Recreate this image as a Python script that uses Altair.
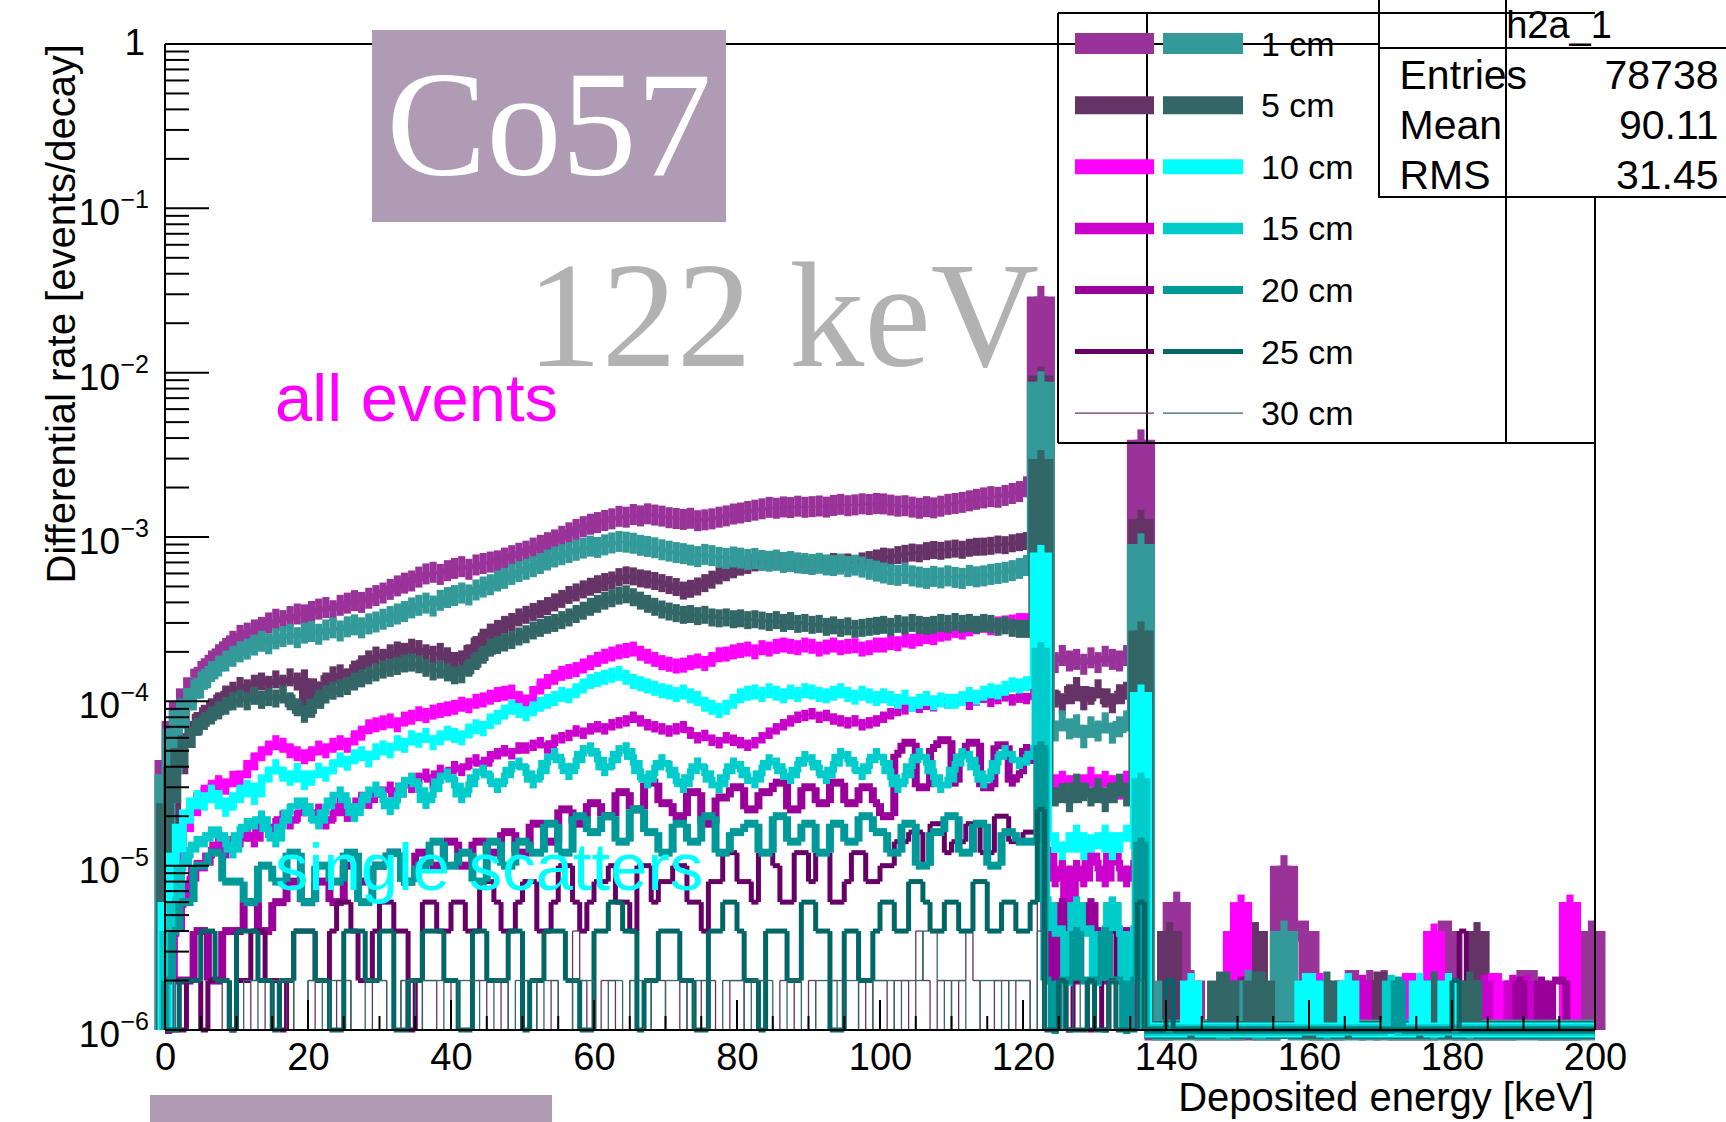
import altair as alt
import pandas as pd

# Co57 source: differential rate per 1 keV bin, stored as simulated counts
# (one count = 2e-6 events/decay). Bins 0-139 are listed in full, the
# sparse counts above 140 keV are given as {bin: count}.
UNIT = 2e-6
FLOOR = 1e-6
N_BINS = 200

distances = ["1 cm", "5 cm", "10 cm", "15 cm", "20 cm", "25 cm", "30 cm"]
all_colors = ["#993399", "#663366", "#ff00ff", "#cc00cc", "#990099", "#660066", "#663366"]
single_colors = ["#339999", "#336666", "#00ffff", "#00cccc", "#009999", "#006666", "#336666"]
line_widths = [21, 18, 15, 11.5, 8, 5, 1.3]

# ---- all events ----
all_1cm = [22, 38, 50, 60, 70, 79, 88, 96, 105, 116,
           126, 130, 136, 141, 150, 158, 155, 164, 170, 168,
           176, 182, 186, 178, 192, 198, 205, 200, 212, 220,
           228, 240, 252, 262, 270, 285, 298, 305, 296, 312,
           322, 330, 318, 338, 345, 352, 358, 372, 385, 398,
           410, 428, 445, 462, 480, 505, 530, 556, 578, 598,
           612, 630, 645, 668, 660, 685, 672, 692, 680, 670,
           655, 648, 640, 650, 628, 636, 645, 660, 672, 690,
           700, 715, 728, 742, 758, 748, 762, 755, 770, 758,
           765, 772, 760, 778, 790, 775, 784, 796, 788, 800,
           795, 782, 770, 775, 760, 748, 765, 752, 770, 790,
           800, 812, 830, 848, 865, 880, 872, 895, 920, 945,
           1010, 1050, 14560, 92, 86, 95, 88, 90, 84, 92,
           86, 94, 90, 88, 95, 100, 1950, 0, 0, 0]
all_1cm_tail = {141: 3, 142: 1, 143: 1, 156: 5, 157: 2, 158: 2, 159: 2, 165: 1, 166: 1,
                168: 1, 170: 1, 178: 2, 179: 2, 189: 1, 190: 1, 191: 1, 198: 1, 199: 2}

all_5cm = [8, 18, 26, 32, 38, 42, 46, 50, 55, 58,
           62, 60, 64, 66, 63, 68, 64, 70, 66, 69,
           46, 58, 66, 72, 74, 70, 78, 84, 90, 95,
           92, 98, 102, 100, 106, 104, 98, 96, 100, 94,
           88, 90, 98, 110, 122, 131, 138, 146, 152, 162,
           168, 175, 182, 190, 200, 210, 222, 230, 240, 249,
           258, 266, 272, 285, 292, 288, 280, 276, 270, 262,
           255, 248, 236, 242, 250, 262, 275, 292, 305, 318,
           330, 338, 350, 358, 362, 355, 348, 352, 342, 338,
           340, 346, 338, 352, 345, 350, 342, 355, 362, 370,
           380, 376, 388, 395, 402, 398, 410, 417, 412, 420,
           425, 418, 430, 436, 437, 442, 450, 446, 458, 465,
           473, 490, 4800, 58, 52, 48, 56, 62, 50, 54,
           60, 52, 48, 56, 58, 62, 644, 0, 0, 0]
all_5cm_tail = {140: 2, 141: 1, 152: 2, 169: 1, 170: 1, 182: 1, 183: 2, 184: 1}

all_10cm = [2, 5, 8, 10, 12, 14, 15, 16, 15, 17,
            17, 19, 22, 24, 26, 28, 27, 25, 24, 23,
            24, 26, 25, 27, 28, 27, 30, 32, 35, 36,
            37, 38, 36, 39, 40, 42, 41, 43, 44, 45,
            46, 48, 47, 50, 51, 53, 55, 56, 57, 52,
            48, 55, 62, 66, 70, 74, 76, 78, 82, 86,
            90, 94, 97, 100, 102, 104, 98, 94, 90, 86,
            84, 82, 83, 86, 88, 85, 90, 96, 97, 100,
            102, 104, 100, 106, 104, 108, 110, 108, 106, 110,
            108, 104, 107, 110, 106, 108, 109, 104, 106, 110,
            110, 114, 112, 118, 116, 120, 124, 122, 128, 130,
            135, 132, 138, 142, 145, 140, 148, 150, 152, 155,
            155, 160, 1400, 18, 15, 17, 16, 14, 16, 18,
            15, 17, 16, 14, 17, 18, 180, 0, 0, 0]
all_10cm_tail = {149: 2, 150: 3, 161: 1, 173: 1, 174: 1, 177: 2, 185: 1, 186: 1, 196: 3}

all_15cm = [1, 2, 3, 4, 5, 5, 6, 7, 6, 7,
            7, 8, 7, 9, 8, 9, 10, 9, 10, 11,
            10, 11, 9, 10, 12, 10, 11, 13, 12, 14,
            14, 15, 13, 16, 15, 17, 18, 16, 19, 18,
            20, 19, 21, 22, 20, 23, 24, 25, 24, 26,
            26, 27, 28, 26, 29, 30, 31, 33, 32, 34,
            35, 34, 36, 37, 38, 40, 38, 36, 35, 34,
            33, 34, 35, 32, 30, 31, 29, 28, 30, 29,
            28, 27, 28, 30, 32, 34, 36, 38, 40, 41,
            42, 40, 41, 39, 38, 37, 38, 36, 37, 38,
            40, 42, 44, 45, 47, 46, 48, 47, 50, 49,
            50, 52, 48, 51, 53, 50, 52, 54, 51, 53,
            52, 55, 500, 6, 4, 5, 3, 5, 4, 6,
            5, 4, 6, 5, 4, 5, 60, 0, 0, 0]
all_15cm_tail = {167: 1, 184: 1, 188: 1, 190: 1}

all_20cm = [0, 1, 1, 1, 2, 2, 1, 1, 2, 2,
            2, 3, 3, 2, 2, 3, 3, 4, 4, 3,
            3, 4, 4, 3, 3, 5, 5, 4, 4, 5,
            5, 6, 6, 4, 4, 6, 6, 5, 5, 7,
            7, 5, 5, 7, 7, 6, 6, 8, 8, 6,
            6, 9, 9, 7, 7, 11, 11, 9, 9, 12,
            12, 10, 10, 14, 14, 11, 11, 16, 16, 12,
            12, 10, 10, 14, 14, 9, 9, 13, 13, 15,
            15, 11, 11, 14, 14, 16, 16, 11, 11, 15,
            15, 12, 12, 16, 16, 12, 12, 15, 15, 12,
            10, 10, 24, 28, 28, 15, 15, 26, 29, 29,
            16, 24, 28, 28, 15, 15, 27, 27, 16, 18,
            26, 22, 170, 2, 1, 3, 2, 1, 2, 3,
            2, 1, 3, 2, 2, 1, 20, 0, 0, 0]
all_20cm_tail = {150: 1, 189: 1, 192: 1, 194: 1, 195: 1}

all_25cm = [0, 0, 0, 1, 1, 0, 1, 1, 1, 0,
            1, 1, 2, 2, 1, 1, 0, 1, 2, 2,
            2, 1, 1, 2, 3, 3, 2, 1, 1, 2,
            3, 3, 2, 2, 0, 1, 3, 3, 2, 2,
            3, 3, 2, 2, 4, 4, 3, 2, 2, 3,
            4, 4, 2, 2, 3, 5, 5, 3, 2, 3,
            4, 4, 5, 3, 3, 2, 5, 5, 3, 4,
            4, 5, 5, 3, 3, 2, 4, 4, 6, 6,
            4, 4, 3, 6, 6, 5, 3, 3, 6, 6,
            4, 6, 6, 3, 3, 4, 6, 6, 4, 4,
            5, 5, 7, 7, 8, 8, 5, 9, 9, 6,
            7, 7, 9, 9, 6, 6, 10, 10, 7, 7,
            8, 8, 60, 1, 0, 1, 0, 1, 1, 0,
            1, 0, 2, 1, 0, 1, 7, 0, 0, 0]
all_25cm_tail = {181: 2}

all_30cm = [0, 0, 0, 0, 0, 0, 0, 0, 1, 0,
            0, 0, 1, 1, 0, 0, 0, 1, 0, 0,
            1, 0, 0, 0, 1, 1, 0, 0, 0, 1,
            1, 0, 0, 1, 0, 0, 1, 1, 0, 0,
            1, 0, 0, 1, 1, 0, 0, 1, 0, 0,
            1, 1, 0, 0, 1, 0, 0, 2, 1, 0,
            0, 1, 1, 0, 0, 1, 0, 0, 1, 1,
            0, 0, 1, 0, 0, 1, 1, 0, 0, 1,
            1, 0, 0, 1, 0, 0, 1, 1, 0, 0,
            1, 0, 0, 1, 1, 0, 0, 1, 0, 1,
            1, 0, 1, 1, 0, 2, 1, 0, 1, 1,
            0, 1, 2, 1, 0, 0, 1, 1, 0, 1,
            1, 0, 12, 0, 0, 0, 0, 0, 0, 0,
            0, 0, 0, 0, 0, 0, 2, 0, 0, 0]
all_30cm_tail = {}

# ---- single scatters ----
single_1cm = [18, 34, 44, 52, 60, 68, 76, 82, 88, 94,
              100, 104, 110, 116, 112, 120, 124, 128, 122, 130,
              133, 128, 136, 140, 134, 142, 146, 140, 148, 152,
              158, 164, 170, 176, 185, 192, 198, 190, 206, 214,
              220, 228, 222, 238, 248, 256, 270, 280, 296, 308,
              318, 330, 345, 362, 378, 390, 402, 415, 428, 440,
              432, 448, 460, 470, 465, 458, 445, 438, 430, 418,
              410, 402, 396, 388, 380, 392, 385, 376, 370, 378,
              372, 365, 370, 360, 356, 362, 350, 355, 348, 345,
              340, 346, 338, 335, 342, 330, 337, 328, 318, 310,
              302, 296, 292, 300, 290, 285, 280, 288, 282, 290,
              284, 280, 292, 286, 290, 296, 300, 305, 312, 322,
              335, 348, 4400, 36, 33, 38, 34, 36, 30, 35,
              33, 37, 32, 35, 38, 40, 454, 1, 0, 0]
single_1cm_tail = {151: 1, 156: 2}

single_5cm = [12, 20, 26, 31, 35, 38, 41, 44, 47, 50,
              52, 50, 54, 51, 53, 52, 55, 50, 46, 42,
              45, 52, 55, 58, 60, 62, 66, 69, 72, 75,
              78, 80, 82, 85, 86, 84, 80, 76, 78, 75,
              72, 73, 80, 88, 96, 106, 110, 114, 118, 124,
              128, 135, 140, 146, 150, 156, 162, 170, 178, 188,
              196, 205, 212, 220, 224, 215, 205, 196, 188, 181,
              176, 172, 168, 170, 165, 168, 162, 160, 162, 158,
              160, 156, 158, 155, 152, 156, 150, 154, 148, 150,
              146, 148, 142, 145, 140, 143, 138, 140, 142, 144,
              146, 142, 148, 145, 150, 146, 144, 146, 150, 148,
              152, 148, 150, 146, 150, 148, 142, 145, 140, 138,
              138, 142, 1490, 15, 13, 14, 12, 16, 14, 13,
              15, 12, 14, 16, 13, 15, 135, 0, 0, 0]
single_5cm_tail = {147: 1, 148: 1, 152: 1, 153: 1, 162: 1, 177: 1, 182: 1}

single_10cm = [3, 6, 9, 11, 13, 12, 14, 13, 11, 12,
               14, 15, 13, 16, 18, 20, 18, 17, 19, 16,
               17, 19, 18, 20, 22, 21, 23, 24, 22, 25,
               26, 25, 28, 27, 30, 29, 31, 28, 30, 32,
               31, 30, 33, 35, 34, 38, 40, 43, 46, 44,
               42, 45, 48, 50, 52, 55, 54, 58, 62, 66,
               68, 70, 72, 74, 70, 66, 64, 62, 60, 58,
               57, 55, 57, 54, 52, 48, 46, 44, 46, 50,
               54, 56, 57, 55, 58, 56, 54, 57, 55, 58,
               57, 55, 54, 56, 58, 55, 53, 56, 54, 52,
               54, 52, 50, 53, 48, 50, 52, 49, 51, 50,
               50, 52, 55, 53, 56, 58, 57, 60, 63, 62,
               64, 66, 403, 8, 7, 6, 7, 8, 6, 7,
               7, 8, 6, 7, 8, 7, 57, 0, 0, 0]
single_10cm_tail = {143: 1, 159: 1, 160: 1, 165: 1, 175: 1, 179: 1}

single_15cm = [2, 3, 5, 6, 7, 7, 8, 8, 7, 6,
               8, 9, 9, 10, 8, 7, 9, 11, 12, 12,
               10, 9, 11, 13, 14, 12, 10, 12, 14, 15,
               13, 11, 13, 16, 17, 15, 12, 14, 17, 18,
               16, 13, 15, 18, 19, 17, 15, 17, 20, 21,
               19, 16, 18, 22, 24, 21, 18, 21, 25, 26,
               23, 19, 21, 25, 26, 22, 18, 16, 19, 22,
               20, 17, 15, 18, 21, 19, 16, 15, 18, 21,
               20, 17, 16, 19, 22, 21, 18, 17, 20, 23,
               22, 19, 17, 20, 24, 23, 20, 18, 21, 24,
               22, 18, 15, 17, 21, 24, 22, 18, 15, 16,
               20, 24, 23, 19, 16, 18, 22, 25, 23, 21,
               22, 25, 106, 3, 2, 2, 1, 3, 2, 2,
               1, 2, 3, 2, 1, 2, 17, 0, 0, 0]
single_15cm_tail = {171: 1}

single_20cm = [1, 2, 3, 3, 5, 5, 6, 6, 4, 4,
               4, 3, 3, 5, 5, 4, 4, 6, 6, 3,
               3, 5, 5, 4, 4, 6, 6, 3, 3, 5,
               5, 6, 6, 4, 4, 5, 5, 7, 7, 5,
               5, 6, 6, 4, 4, 7, 7, 5, 5, 7,
               7, 6, 6, 9, 9, 6, 6, 10, 10, 8,
               8, 10, 10, 7, 7, 11, 11, 8, 8, 6,
               6, 9, 9, 7, 7, 10, 10, 6, 6, 8,
               8, 9, 9, 6, 6, 10, 10, 7, 7, 9,
               9, 6, 6, 9, 9, 7, 7, 10, 10, 8,
               8, 6, 6, 9, 9, 5, 5, 8, 8, 10,
               10, 6, 6, 9, 9, 5, 5, 8, 8, 7,
               7, 7, 27, 1, 0, 1, 1, 2, 1, 1,
               1, 2, 1, 1, 0, 1, 7, 0, 0, 0]
single_20cm_tail = {172: 1}

single_25cm = [0, 0, 1, 1, 1, 2, 2, 1, 1, 0,
               2, 2, 2, 1, 1, 0, 1, 1, 2, 2,
               2, 1, 1, 0, 0, 2, 2, 2, 1, 1,
               2, 2, 0, 0, 1, 1, 2, 2, 2, 1,
               1, 0, 0, 2, 2, 1, 1, 1, 2, 2,
               0, 1, 1, 2, 2, 2, 1, 1, 0, 0,
               2, 2, 3, 3, 2, 2, 0, 1, 1, 2,
               2, 2, 1, 1, 0, 0, 2, 2, 3, 3,
               2, 1, 1, 0, 2, 2, 2, 1, 1, 3,
               3, 2, 2, 0, 0, 2, 2, 1, 1, 2,
               3, 3, 2, 2, 4, 4, 3, 2, 2, 3,
               3, 2, 2, 4, 4, 2, 2, 3, 3, 2,
               2, 3, 11, 0, 0, 1, 0, 0, 0, 1,
               0, 0, 1, 0, 0, 0, 3, 0, 0, 0]
single_25cm_tail = {140: 1, 180: 1}

single_30cm = [0, 0, 0, 0, 0, 0, 0, 0, 0, 0,
               0, 1, 1, 0, 0, 1, 1, 1, 0, 0,
               1, 1, 0, 1, 1, 1, 0, 0, 1, 1,
               1, 0, 0, 1, 1, 0, 1, 1, 1, 0,
               0, 1, 1, 1, 0, 0, 1, 1, 0, 1,
               1, 1, 0, 1, 1, 0, 0, 1, 1, 1,
               0, 0, 1, 1, 0, 1, 1, 1, 0, 0,
               1, 1, 1, 0, 1, 1, 0, 0, 1, 1,
               1, 0, 1, 1, 1, 0, 0, 1, 1, 0,
               0, 1, 1, 1, 0, 1, 1, 0, 0, 1,
               1, 1, 0, 1, 1, 1, 2, 2, 1, 0,
               1, 1, 0, 0, 1, 1, 1, 0, 1, 1,
               1, 0, 2, 0, 0, 0, 0, 1, 0, 0,
               0, 0, 1, 0, 0, 0, 1, 0, 0, 0]
single_30cm_tail = {}

# axis ticks and stats-box content
x_major = [0, 20, 40, 60, 80, 100, 120, 140, 160, 180, 200]
x_minor = [v for v in range(0, 201, 5) if v % 20]
y_exponents = [0, -1, -2, -3, -4, -5, -6]
stat_names = ["Entries", "Mean", "RMS"]
stat_values = ["78738", "90.11", "31.45"]


def full_counts(head, tail):
    counts = list(head) + [0] * (N_BINS - len(head))
    for b, c in tail.items():
        counts[b] = c
    return counts


all_heads = [(all_1cm, all_1cm_tail), (all_5cm, all_5cm_tail), (all_10cm, all_10cm_tail),
             (all_15cm, all_15cm_tail), (all_20cm, all_20cm_tail), (all_25cm, all_25cm_tail),
             (all_30cm, all_30cm_tail)]
single_heads = [(single_1cm, single_1cm_tail), (single_5cm, single_5cm_tail),
                (single_10cm, single_10cm_tail), (single_15cm, single_15cm_tail),
                (single_20cm, single_20cm_tail), (single_25cm, single_25cm_tail),
                (single_30cm, single_30cm_tail)]

# drawing order: all-event histograms first, then the single-scatter ones
names, colors, widths, series = [], [], [], []
for d, c, w, (h, t) in zip(distances, all_colors, line_widths, all_heads):
    names.append("all " + d); colors.append(c); widths.append(w); series.append(full_counts(h, t))
for d, c, w, (h, t) in zip(distances, single_colors, line_widths, single_heads):
    names.append("single " + d); colors.append(c); widths.append(w); series.append(full_counts(h, t))

# ROOT-style step outline: one butt-capped segment per bin top and per edge
segs = []
for name, w, counts in zip(names, widths, series):
    rates = [max(c * UNIT, FLOOR) for c in counts]
    prev = FLOOR
    for i, v in enumerate(rates):
        if v != prev:
            segs.append({"s": name, "w": w, "x": i, "x2": i, "y": prev, "y2": v})
            segs.append({"s": name, "w": w, "x": i, "x2": i + 1, "y": v, "y2": v})
        elif segs and segs[-1]["s"] == name and segs[-1]["y"] == v and segs[-1]["y2"] == v and segs[-1]["x2"] == i:
            segs[-1]["x2"] = i + 1
        else:
            segs.append({"s": name, "w": w, "x": i, "x2": i + 1, "y": v, "y2": v})
        prev = v
    if prev != FLOOR:
        segs.append({"s": name, "w": w, "x": N_BINS, "x2": N_BINS, "y": prev, "y2": FLOOR})
seg_df = pd.DataFrame(segs)

W, H = 1430, 986
SANS = "Liberation Sans"
SERIF = "Liberation Serif"
BOX_PURPLE = "#af9bb3"

xs = alt.Scale(domain=[0, 200], nice=False, zero=False)
ys = alt.Scale(type="log", domain=[1e-6, 1], nice=False)
x_axis = alt.Axis(values=x_major, labelFontSize=38, labelFont=SANS, labelColor="black",
                  ticks=False, tickSize=0, domain=False, grid=False, labelPadding=9,
                  labelAngle=0, title=None, labelFlush=False)
one = pd.DataFrame({"k": [0]})

layers = []

hist = alt.Chart(seg_df).mark_rule(strokeCap="butt").encode(
    x=alt.X("x:Q", scale=xs, axis=x_axis),
    x2="x2:Q",
    y=alt.Y("y:Q", scale=ys, axis=None),
    y2="y2:Q",
    color=alt.Color("s:N", scale=alt.Scale(domain=names, range=colors), legend=None),
    strokeWidth=alt.StrokeWidth("w:Q", scale=None, legend=None),
)
layers.append(hist)


def rule(x, y, x2=None, y2=None, color="black", width=2):
    enc = {"x": alt.value(x), "y": alt.value(y)}
    if x2 is not None:
        enc["x2"] = alt.value(x2)
    if y2 is not None:
        enc["y2"] = alt.value(y2)
    return alt.Chart(one).mark_rule(color=color, strokeWidth=width, strokeCap="butt").encode(**enc)


def text(t, x, y, size, color="black", font=SANS, align="left", baseline="alphabetic", angle=0):
    kw = dict(text=t, fontSize=size, font=font, color=color, align=align, baseline=baseline)
    if angle:
        kw["angle"] = angle
    return alt.Chart(one).mark_text(**kw).encode(x=alt.value(x), y=alt.value(y))


# frame
layers += [rule(0, 0, y2=H), rule(0, H, x2=W), rule(0, 0, x2=W), rule(W, -31, y2=H)]

# ticks drawn inside the frame
xt_major = pd.DataFrame({"v": x_major})
xt_minor = pd.DataFrame({"v": x_minor})
layers.append(alt.Chart(xt_major).mark_rule(color="black", strokeWidth=2).encode(
    x=alt.X("v:Q", scale=xs, axis=x_axis), y=alt.value(H), y2=alt.value(H - 30)))
layers.append(alt.Chart(xt_minor).mark_rule(color="black", strokeWidth=2).encode(
    x=alt.X("v:Q", scale=xs, axis=x_axis), y=alt.value(H), y2=alt.value(H - 14)))

yt_major = pd.DataFrame({"v": [10.0 ** e for e in y_exponents]})
yt_minor = pd.DataFrame({"v": [m * 10.0 ** e for e in y_exponents[1:] for m in range(2, 10)]})
layers.append(alt.Chart(yt_major).mark_rule(color="black", strokeWidth=2).encode(
    y=alt.Y("v:Q", scale=ys, axis=None), x=alt.value(0), x2=alt.value(44)))
layers.append(alt.Chart(yt_minor).mark_rule(color="black", strokeWidth=2).encode(
    y=alt.Y("v:Q", scale=ys, axis=None), x=alt.value(0), x2=alt.value(24)))

# y labels: 1, 10^-1 ... 10^-6 with superscript exponents
ylab = pd.DataFrame({"v": [10.0 ** e for e in y_exponents[1:]],
                     "sup": ["\u2212" + str(-e) for e in y_exponents[1:]]})
layers.append(alt.Chart(pd.DataFrame({"v": [1.0]})).mark_text(
    text="1", fontSize=37, font=SANS, align="right", baseline="middle", color="black").encode(
    y=alt.Y("v:Q", scale=ys, axis=None), x=alt.value(-20)))
layers.append(alt.Chart(ylab).mark_text(
    text="10", fontSize=37, font=SANS, align="right", baseline="alphabetic", dy=17, color="black").encode(
    y=alt.Y("v:Q", scale=ys, axis=None), x=alt.value(-45)))
layers.append(alt.Chart(ylab).mark_text(
    fontSize=25, font=SANS, align="right", baseline="alphabetic", dy=0, color="black").encode(
    y=alt.Y("v:Q", scale=ys, axis=None), x=alt.value(-16), text="sup:N"))

# axis titles
layers.append(text("Differential rate [events/decay]", -90, 0, 40, align="right", angle=270))
layers.append(text("Deposited energy [keV]", W - 1, 1067, 40, align="right"))

# statistics box
layers.append(alt.Chart(one).mark_rect(fill="white", stroke="black", strokeWidth=2).encode(
    x=alt.value(1214), x2=alt.value(1580), y=alt.value(-45), y2=alt.value(153)))
layers.append(rule(1214, 4, x2=1580))
layers.append(text("h2a_1", 1394, -6.5, 38, align="center"))
for i, (n, v) in enumerate(zip(stat_names, stat_values)):
    layers.append(text(n, 1234.5, 45 + 50 * i, 41))
    layers.append(text(v, 1553.5, 45 + 50 * i, 41, align="right"))

# legend box (transparent) with its column lines
layers += [rule(893, -31, x2=W), rule(893, 399, x2=W), rule(893, -31, y2=399),
           rule(982, -31, y2=399), rule(1341, -44, y2=399)]
for i, d in enumerate(distances):
    yc = -0.4 + 61.6 * i
    layers.append(rule(910, yc, x2=989, color=all_colors[i], width=line_widths[i]))
    layers.append(rule(998, yc, x2=1078, color=single_colors[i], width=line_widths[i]))
    layers.append(text(d, 1096, yc + 12, 34))

# annotations
layers.append(alt.Chart(one).mark_rect(fill=BOX_PURPLE).encode(
    x=alt.value(207), x2=alt.value(561), y=alt.value(-14), y2=alt.value(178)))
layers.append(text("Co57", 384, 131, 150, color="white", font=SERIF, align="center"))
layers.append(text("122 keV", 618, 322, 150, color="#b2b2b2", font=SERIF, align="center"))
layers.append(text("all events", 110, 377, 67, color="#ff00ff"))
layers.append(text("single scatters", 110, 846, 67, color="#00ffff"))
layers.append(alt.Chart(one).mark_rect(fill=BOX_PURPLE).encode(
    x=alt.value(-15), x2=alt.value(387), y=alt.value(1051), y2=alt.value(1080)))

chart = alt.layer(*layers).properties(
    width=W, height=H,
    padding={"left": 165, "top": 44, "right": 131, "bottom": 92},
    autosize=alt.AutoSizeParams(type="none"),
).configure_view(stroke=None).configure(background="white")

chart.save("out.html", embed_options={"renderer": "svg", "actions": False})
